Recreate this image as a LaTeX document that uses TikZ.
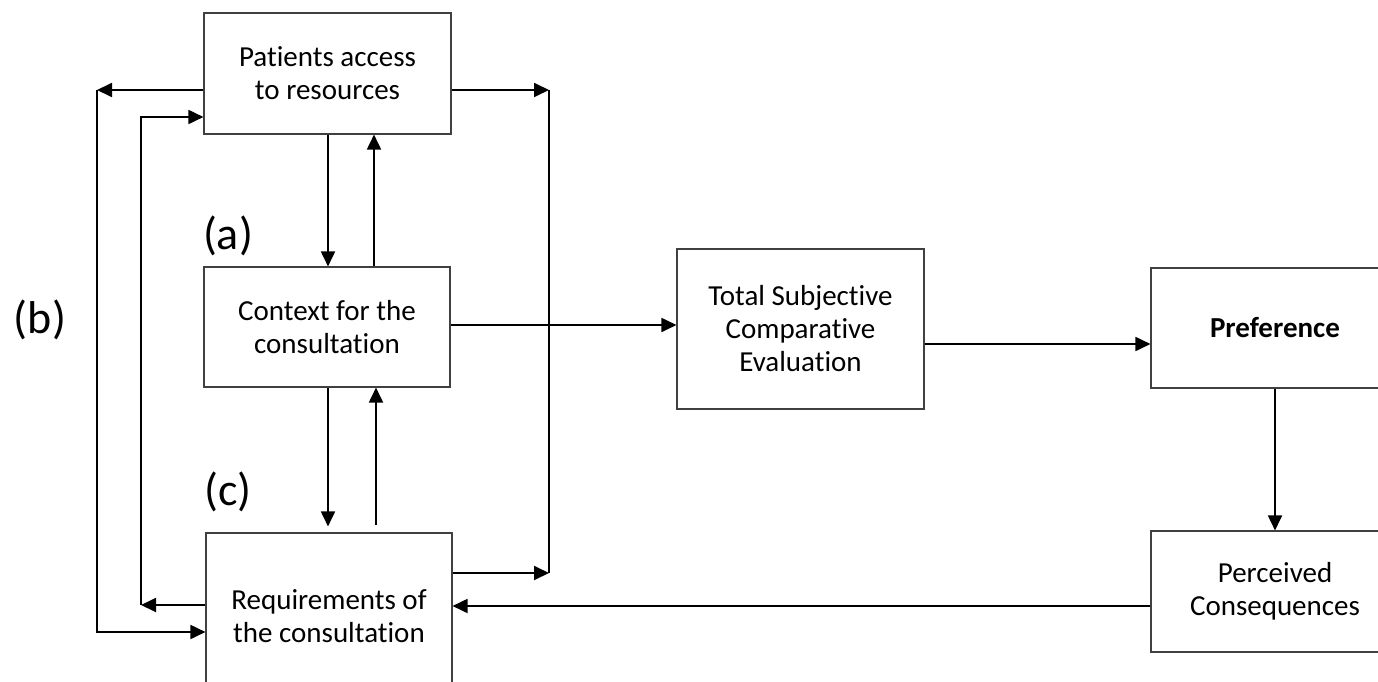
\documentclass[tikz,border=0pt]{standalone}
\usepackage{fontspec}
\setmainfont[Ligatures=NoCommon]{Carlito}
\usetikzlibrary{arrows.meta}
\begin{document}
\begin{tikzpicture}[x=1pt,y=-1pt,
  box/.style={draw=black!75,line width=1.1pt,fill=white,align=center,
    inner sep=0pt,font=\fontsize{29}{33}\selectfont},
  link/.style={line width=1.8pt,-{Triangle[length=15pt,width=14pt]}},
  plain/.style={line width=1.8pt},
  tag/.style={font=\fontsize{46}{50}\selectfont}]
\clip (0,0) rectangle (1378,682);
\fill[white] (0,0) rectangle (1378,682);

% boxes
\node[box,minimum width=247pt,minimum height=121pt] (pat) at (327.5,73.5) {Patients access\\to resources};
\node[box,minimum width=246pt,minimum height=120pt] (ctx) at (327,327) {Context for the\\consultation};
\node[box,minimum width=246pt,minimum height=166pt] (req) at (329,616) {Requirements of\\the consultation};
\node[box,minimum width=247pt,minimum height=160pt] (tsce) at (800.5,329) {Total Subjective\\Comparative\\Evaluation};
\node[box,minimum width=248pt,minimum height=120pt] (pref) at (1275,328) {\bfseries Preference};
\node[box,minimum width=248pt,minimum height=121pt] (perc) at (1275,591.5) {Perceived\\Consequences};

% labels
\node[tag] (la) at (228,236) {(a)};
\node[tag] (lb) at (40,320) {(b)};
\node[tag] (lc) at (228,492) {(c)};

% loop corners
\coordinate (bTop) at (97,90);
\coordinate (bBot) at (97,632);
\coordinate (iTop) at (141,117);
\coordinate (iBot) at (141,605);
\coordinate (rTop) at (549,90);
\coordinate (rBot) at (549,573);

% vertical links between the left boxes
\draw[link] (pat.south -| 328,0) -- (ctx.north -| 328,0);
\draw[link] (ctx.north -| 374,0) -- (pat.south -| 374,0);
\draw[link,shorten >=6pt] (ctx.south -| 328,0) -- (req.north -| 328,0);
\draw[link] ([yshift=7pt]req.north -| 376,0) -- (ctx.south -| 376,0);

% outer loop (b)
\draw[link] (bTop -| pat.west) -- (bTop);
\draw[link] (bTop) -- (bBot) -- (bBot -| req.west);

% inner loop
\draw[link] (iBot -| req.west) -- (iBot);
\draw[link] (iBot) -- (iTop) -- (iTop -| pat.west);

% right loop
\draw[link] (rTop -| pat.east) -- (rTop);
\draw[link] (rBot -| req.east) -- (rBot);
\draw[plain] (rTop) -- (rBot);

% main chain
\draw[link] (ctx.east |- 0,325) -- (tsce.west |- 0,325);
\draw[link] (tsce.east |- 0,344) -- (pref.west |- 0,344);
\draw[link] (pref.south) -- (perc.north);
\draw[link] (perc.west |- 0,606) -- (req.east |- 0,606);
\end{tikzpicture}
\end{document}
